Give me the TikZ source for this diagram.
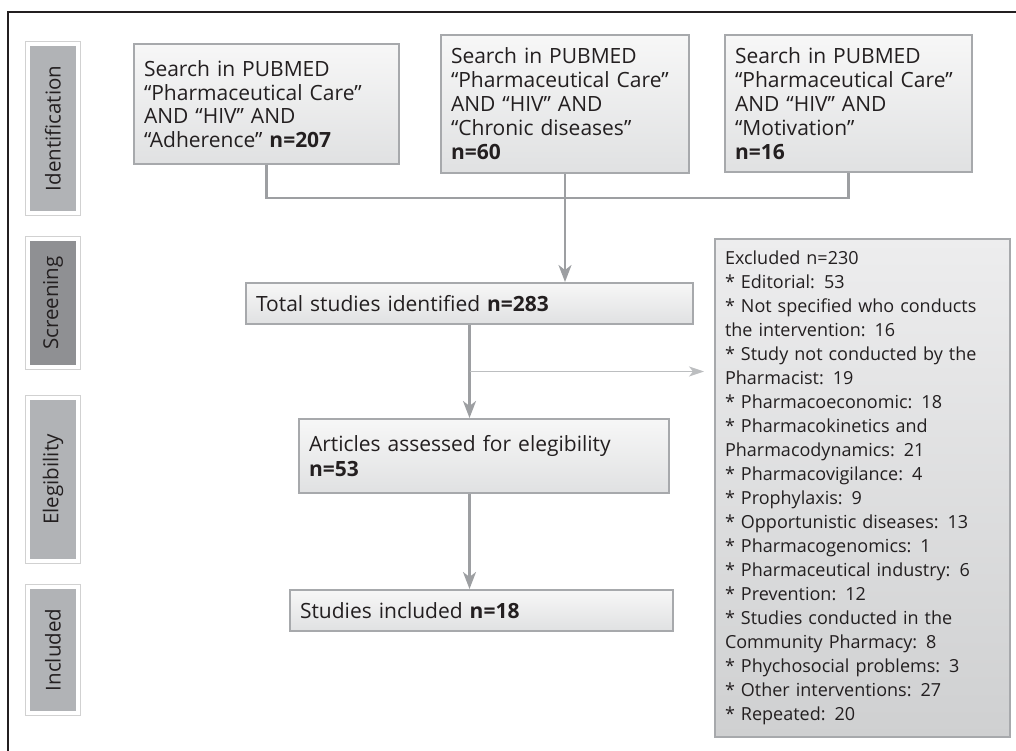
\documentclass[tikz,border=0pt]{standalone}
\usepackage{fontspec}
\setmainfont{Open Sans}
\usetikzlibrary{positioning}
\usetikzlibrary{calc}
\usetikzlibrary{arrows.meta}
\definecolor{textdark}{HTML}{231F20}
\definecolor{boxborder}{HTML}{A7A9AC}
\definecolor{boxtop}{HTML}{F7F7F7}
\definecolor{boxbottom}{HTML}{E0E1E2}
\definecolor{excltop}{HTML}{EDEDEE}
\definecolor{exclbottom}{HTML}{CFD0D1}
\definecolor{tablight}{HTML}{B1B3B6}
\definecolor{tabdark}{HTML}{8F9093}
\definecolor{linegray}{HTML}{9D9FA2}
\definecolor{thingray}{HTML}{BCBEC0}
\tikzstyle{searchbox} = [rectangle, top color=boxtop, bottom color=boxbottom, draw=boxborder, line width=2pt, inner xsep=10pt, inner ysep=0pt, align=left, text=textdark, font=\fontsize{21}{23.5}\selectfont]
\tikzstyle{exclbox} = [searchbox, top color=excltop, bottom color=exclbottom, font=\fontsize{18}{24}\selectfont]
\tikzstyle{stagetab} = [rectangle, fill=tablight, draw=white, line width=4pt, preaction={draw=black!18, line width=6pt}, minimum width=50pt, inner sep=0pt, text=textdark, font=\fontsize{20.5}{24}\selectfont]
\tikzstyle{arrow} = [line width=2.5pt, draw=linegray, -{Stealth[length=17pt, width=13pt, inset=5pt, fill=linegray]}]
\tikzstyle{thinarrow} = [line width=1.5pt, draw=thingray, -{Stealth[length=15pt, width=10pt, inset=4pt, fill=thingray]}]

\begin{document}
\begin{tikzpicture}[x=1pt, y=1pt]
		\useasboundingbox (0,0) rectangle (1016,-751);
		
		% frame
		\draw [line width=2pt, textdark] (8,-751) |- (1016,-12);
		
		% stages
		\node (identification) [stagetab, minimum height=169pt] at (53,-128.5) {\rotatebox{90}{Identification}};
		\node (screening) [stagetab, fill=tabdark, minimum height=128pt, below = 22pt of identification] {\rotatebox{90}{Screening}};
		\node (elegibility) [stagetab, minimum height=163pt, below = 27pt of screening] {\rotatebox{90}{Elegibility}};
		\node (included) [stagetab, minimum height=126pt, below = 22pt of elegibility] {\rotatebox{90}{Included}};
		
		% searches
		\node (search_adherence) [searchbox, text width=245pt, minimum height=120pt] at (266.5,-104) {Search in PUBMED\\``Pharmaceutical Care''\\AND ``HIV'' AND\\``Adherence'' \textbf{n=207}};
		\node (search_chronic) [searchbox, text width=228pt, minimum height=138pt, right = 40pt of search_adherence, font=\fontsize{21}{24}\selectfont] {Search in PUBMED\\``Pharmaceutical Care''\\AND ``HIV'' AND\\``Chronic diseases''\\\textbf{n=60}};
		\node (search_motivation) [searchbox, text width=227pt, minimum height=137pt, right = 34pt of search_chronic, font=\fontsize{21}{24}\selectfont] {Search in PUBMED\\``Pharmaceutical Care''\\AND ``HIV'' AND\\``Motivation''\\\textbf{n=16}};
		
		\node (total_studies) [searchbox, text width=427pt, minimum height=41pt, below = 108pt of search_chronic, xshift=-95.5pt] {Total studies identified \textbf{n=283}};
		\node (articles) [searchbox, text width=350pt, minimum height=74pt, below = 93pt of total_studies, xshift=14.5pt, font=\fontsize{21}{25}\selectfont] {Articles assessed for elegibility\\\textbf{n=53}};
		\node (studies) [searchbox, text width=363pt, minimum height=41pt, below = 95pt of articles, xshift=-2.5pt] {Studies included \textbf{n=18}};
		
		\node (excluded) [exclbox, text width=275pt, minimum height=498pt, anchor=north west] at (714,-238) {Excluded n=230\\{}* Editorial: 53\\{}* Not specified who conducts\\the intervention: 16\\{}* Study not conducted by the\\Pharmacist: 19\\{}* Pharmacoeconomic: 18\\{}* Pharmacokinetics and\\Pharmacodynamics: 21\\{}* Pharmacovigilance: 4\\{}* Prophylaxis: 9\\{}* Opportunistic diseases: 13\\{}* Pharmacogenomics: 1\\{}* Pharmaceutical industry: 6\\{}* Prevention: 12\\{}* Studies conducted in the\\Community Pharmacy: 8\\{}* Phychosocial problems: 3\\{}* Other interventions: 27\\{}* Repeated: 20};
		
		% connectors
		\draw [line width=2.5pt, draw=linegray] (search_adherence.south) -- ++(0,-33) -| (search_motivation.south);
		\draw [arrow] (search_chronic.south) -- (search_chronic.south |- total_studies.north);
		\draw [arrow] (total_studies.south) -- (total_studies.south |- articles.north);
		\draw [arrow] (total_studies.south |- articles.south) -- (total_studies.south |- studies.north);
		
		\coordinate (branch) at ($(total_studies.south)!0.5!(total_studies.south |- articles.north)$);
		\draw [thinarrow] (branch) -- ([xshift=-10pt] branch -| excluded.west);
		
\end{tikzpicture}
\end{document}
